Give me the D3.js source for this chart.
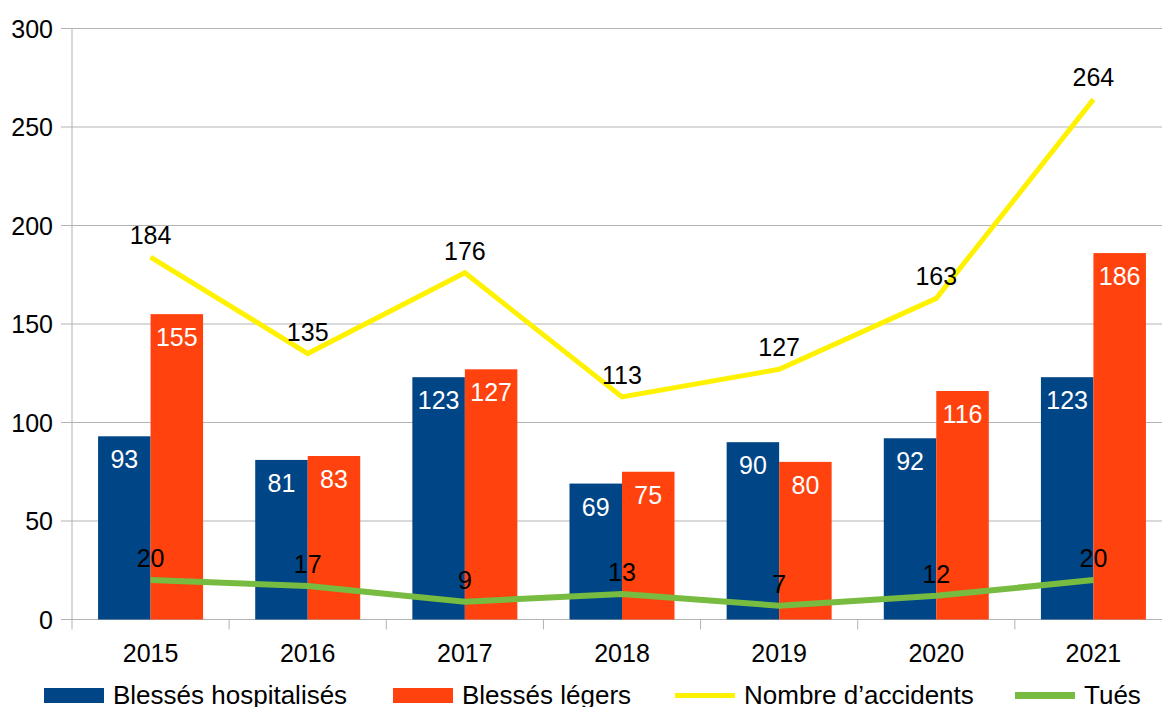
<!DOCTYPE html>
<html>
<head>
<meta charset="utf-8">
<script src="https://cdn.jsdelivr.net/npm/d3@7"></script>
<style>
    body { margin: 0; background: #fff; }
    svg text { font-family: "Liberation Sans", Arial, sans-serif; }
</style>
</head>
<body>
<svg id="chart" width="1162" height="707"></svg>
<script>
/*
 * Data
 * */
var years = ['2015', '2016', '2017', '2018', '2019', '2020', '2021'];
var hospitalises = [93, 81, 123, 69, 90, 92, 123];
var legers = [155, 83, 127, 75, 80, 116, 186];
var accidents = [184, 135, 176, 113, 127, 163, 264];
var tues = [20, 17, 9, 13, 7, 12, 20];
var yTicks = [0, 50, 100, 150, 200, 250, 300];

var seriesNames = ['Blessés hospitalisés', 'Blessés légers', 'Nombre d\u2019accidents', 'Tués'];

var blue = '#004586',
    orange = '#ff420e',
    yellow = '#fff200',
    green = '#77bc41',
    grid = '#b3b3b3';

/*
 * Layout
 * */
var plotLeft = 72,
    plotRight = 1172,
    plotTop = 28.5,
    plotBottom = 619.5;

var svg = d3.select('#chart');

var x = d3.scaleBand()
    .domain(years)
    .range([plotLeft, plotRight]);

var y = d3.scaleLinear()
    .domain([0, 300])
    .range([plotBottom, plotTop]);

var barW = 52.5;
function cx(d) { return x(d) + x.bandwidth() / 2; }

// gridlines + y ticks
svg.append('g').selectAll('line')
    .data(yTicks)
    .enter().append('line')
    .attr('x1', plotLeft - 11)
    .attr('x2', plotRight)
    .attr('y1', function (d) { return y(d); })
    .attr('y2', function (d) { return y(d); })
    .attr('stroke', grid)
    .attr('stroke-width', 1);

svg.append('g').selectAll('text')
    .data(yTicks)
    .enter().append('text')
    .attr('x', 53)
    .attr('y', function (d) { return y(d); })
    .attr('dy', '0.36em')
    .attr('text-anchor', 'end')
    .attr('font-size', 25)
    .attr('fill', '#000')
    .text(function (d) { return d; });

// y axis line
svg.append('line')
    .attr('x1', plotLeft).attr('x2', plotLeft)
    .attr('y1', plotTop).attr('y2', plotBottom + 10)
    .attr('stroke', grid);

// x ticks at category boundaries
svg.append('g').selectAll('line')
    .data(years.slice(1))
    .enter().append('line')
    .attr('x1', function (d) { return x(d); })
    .attr('x2', function (d) { return x(d); })
    .attr('y1', plotBottom)
    .attr('y2', plotBottom + 10)
    .attr('stroke', grid);

svg.append('g').selectAll('text')
    .data(years)
    .enter().append('text')
    .attr('x', cx)
    .attr('y', 662)
    .attr('text-anchor', 'middle')
    .attr('font-size', 25)
    .attr('fill', '#000')
    .text(function (d) { return d; });

// bars
function bars(values, offset, colour) {
    var g = svg.append('g');
    g.selectAll('rect')
        .data(values)
        .enter().append('rect')
        .attr('x', function (d, i) { return cx(years[i]) + offset; })
        .attr('y', function (d) { return y(d); })
        .attr('width', barW)
        .attr('height', function (d) { return y(0) - y(d); })
        .attr('fill', colour);
    return g;
}

bars(hospitalises, -barW, blue);
bars(legers, 0, orange);

// lines
var line = d3.line()
    .x(function (d, i) { return cx(years[i]); })
    .y(function (d) { return y(d); });

svg.append('path')
    .datum(accidents)
    .attr('d', line)
    .attr('fill', 'none')
    .attr('stroke', yellow)
    .attr('stroke-width', 5);

svg.append('path')
    .datum(tues)
    .attr('d', line)
    .attr('fill', 'none')
    .attr('stroke', green)
    .attr('stroke-width', 6);

// data labels
function barLabels(values, offset) {
    svg.append('g').selectAll('text')
        .data(values)
        .enter().append('text')
        .attr('x', function (d, i) { return cx(years[i]) + offset + barW / 2; })
        .attr('y', function (d) { return y(d) + 32; })
        .attr('text-anchor', 'middle')
        .attr('font-size', 25)
        .attr('fill', '#fff')
        .text(function (d) { return d; });
}
barLabels(hospitalises, -barW);
barLabels(legers, 0);

function lineLabels(values) {
    svg.append('g').selectAll('text')
        .data(values)
        .enter().append('text')
        .attr('x', function (d, i) { return cx(years[i]); })
        .attr('y', function (d) { return y(d) - 13; })
        .attr('text-anchor', 'middle')
        .attr('font-size', 25)
        .attr('fill', '#000')
        .text(function (d) { return d; });
}
lineLabels(accidents);
lineLabels(tues);

// legend
var legend = [
    { x: 44, type: 'rect', colour: blue },
    { x: 393, type: 'rect', colour: orange },
    { x: 675, type: 'line', colour: yellow },
    { x: 1015, type: 'line', colour: green }
];

var lg = svg.append('g');
legend.forEach(function (l, i) {
    if (l.type === 'rect') {
        lg.append('rect')
            .attr('x', l.x).attr('y', 688)
            .attr('width', 60).attr('height', 15)
            .attr('fill', l.colour);
    } else {
        lg.append('line')
            .attr('x1', l.x).attr('x2', l.x + 60)
            .attr('y1', 695.5).attr('y2', 695.5)
            .attr('stroke', l.colour)
            .attr('stroke-width', i === 3 ? 7 : 5);
    }
    lg.append('text')
        .attr('x', l.x + 69)
        .attr('y', 704)
        .attr('font-size', 26)
        .attr('fill', '#000')
        .text(seriesNames[i]);
});
</script>
</body>
</html>
